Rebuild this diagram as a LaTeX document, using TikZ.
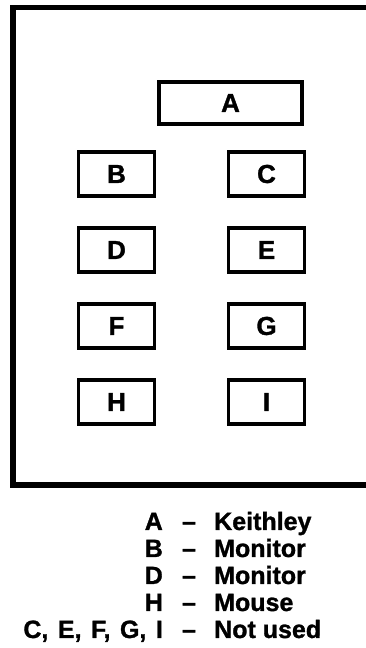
\documentclass[tikz,border=0pt]{standalone}
\usepackage{fontspec}
\setmainfont{Liberation Sans}[BoldFeatures={FakeBold=1.2}]
\usetikzlibrary{positioning}

\begin{document}
\begin{tikzpicture}[
    x=1pt, y=1pt,
    node distance=28.5pt and 70.5pt,
    slot/.style={draw, line width=3.5pt, minimum width=76pt, minimum height=44pt, inner sep=0pt, font=\fontsize{26}{26}\selectfont\bfseries},
    wideslot/.style={slot, minimum width=143pt, minimum height=42pt},
    keytext/.style={inner sep=0pt, font=\fontsize{25}{27}\selectfont\bfseries},
]
    \useasboundingbox (0,0) rectangle (366,648);

    % panel outline, open to the right
    \draw[line width=5.5pt, line join=miter] (366,640.5) -- (13,640.5) -- (13,163) -- (366,163);

    % connector slots
    \node[wideslot] (A) at (230.5,545) {A};
    \node[slot] (B) at (116.5,474) {B};
    \node[slot, right=of B] (C) {C};
    \node[slot, below=of B] (D) {D};
    \node[slot, right=of D] (E) {E};
    \node[slot, below=of D] (F) {F};
    \node[slot, right=of F] (G) {G};
    \node[slot, below=of F] (H) {H};
    \node[slot, right=of H] (I) {I};

    % legend
    \node[keytext, anchor=base east] (keyA) at (163,118) {A};
    \node[keytext, anchor=base] (dashA) at (189,118) {--};
    \node[keytext, anchor=base west] (nameA) at (214,118) {Keithley};

    \node[keytext, anchor=base east] (keyB) at (163,91) {B};
    \node[keytext, anchor=base] (dashB) at (189,91) {--};
    \node[keytext, anchor=base west] (nameB) at (214,91) {Monitor};

    \node[keytext, anchor=base east] (keyD) at (163,64) {D};
    \node[keytext, anchor=base] (dashD) at (189,64) {--};
    \node[keytext, anchor=base west] (nameD) at (214,64) {Monitor};

    \node[keytext, anchor=base east] (keyH) at (163,37) {H};
    \node[keytext, anchor=base] (dashH) at (189,37) {--};
    \node[keytext, anchor=base west] (nameH) at (214,37) {Mouse};

    \node[keytext, anchor=base east] (keyrest) at (163,10) {\spaceskip=9.5pt C, E, F, G, I};
    \node[keytext, anchor=base] (dashrest) at (189,10) {--};
    \node[keytext, anchor=base west] (namerest) at (214,10) {Not used};

\end{tikzpicture}
\end{document}
